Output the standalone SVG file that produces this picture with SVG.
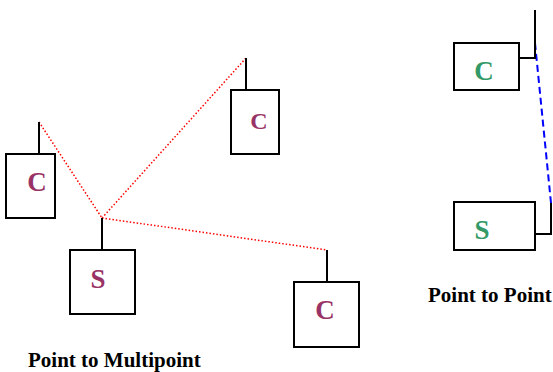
<svg xmlns="http://www.w3.org/2000/svg" width="553" height="372" viewBox="0 0 553 372">
<style>
.box{fill:#fff;stroke:#000;stroke-width:2}
.stub{stroke:#000;stroke-width:2;fill:none}
.lbl{font-family:"Liberation Serif",serif;font-weight:bold;text-anchor:middle}
.p{fill:#993366}
.g{fill:#339966}
.red{stroke:#ff0000;stroke-width:1.5;stroke-dasharray:1.5 2;fill:none}
.blue{stroke:#0000ff;stroke-width:2;stroke-dasharray:7 4;fill:none}
.cap{font-family:"Liberation Serif",serif;font-weight:bold;font-size:21px;fill:#000}
</style>
<rect width="553" height="372" fill="#fff"/>
<g id="connectors">
<line class="red" x1="39" y1="122" x2="102" y2="218"/>
<line class="red" x1="102" y1="218" x2="246" y2="58"/>
<line class="red" x1="102" y1="218" x2="327" y2="250"/>
<line class="blue" x1="535" y1="43" x2="551" y2="203"/>
</g>
<g id="c-left">
<line class="stub" x1="39" y1="122" x2="39" y2="154"/>
<rect class="box" x="6" y="154" width="49" height="64"/>
<text class="lbl p" x="37" y="191" font-size="27">C</text>
</g>
<g id="c-top">
<line class="stub" x1="246" y1="58" x2="246" y2="90"/>
<rect class="box" x="231" y="90" width="48" height="64"/>
<text class="lbl p" x="259" y="129" font-size="24">C</text>
</g>
<g id="s-multi">
<line class="stub" x1="102" y1="218" x2="102" y2="250"/>
<rect class="box" x="70" y="250" width="65" height="64"/>
<text class="lbl p" x="98" y="288" font-size="27">S</text>
</g>
<g id="c-right">
<line class="stub" x1="327" y1="250" x2="327" y2="282"/>
<rect class="box" x="294" y="282" width="65" height="65"/>
<text class="lbl p" x="325" y="319" font-size="27">C</text>
</g>
<g id="c-p2p">
<polyline class="stub" points="535,10 535,58 519,58"/>
<rect class="box" x="454" y="43" width="65" height="47"/>
<text class="lbl g" x="484" y="80" font-size="27">C</text>
</g>
<g id="s-p2p">
<polyline class="stub" points="551,203 551,234 535,234"/>
<rect class="box" x="454" y="202" width="81" height="48"/>
<text class="lbl g" x="482" y="239" font-size="27">S</text>
</g>
<text class="cap" x="28" y="367">Point to Multipoint</text>
<text class="cap" x="428" y="302">Point to Point</text>
</svg>
